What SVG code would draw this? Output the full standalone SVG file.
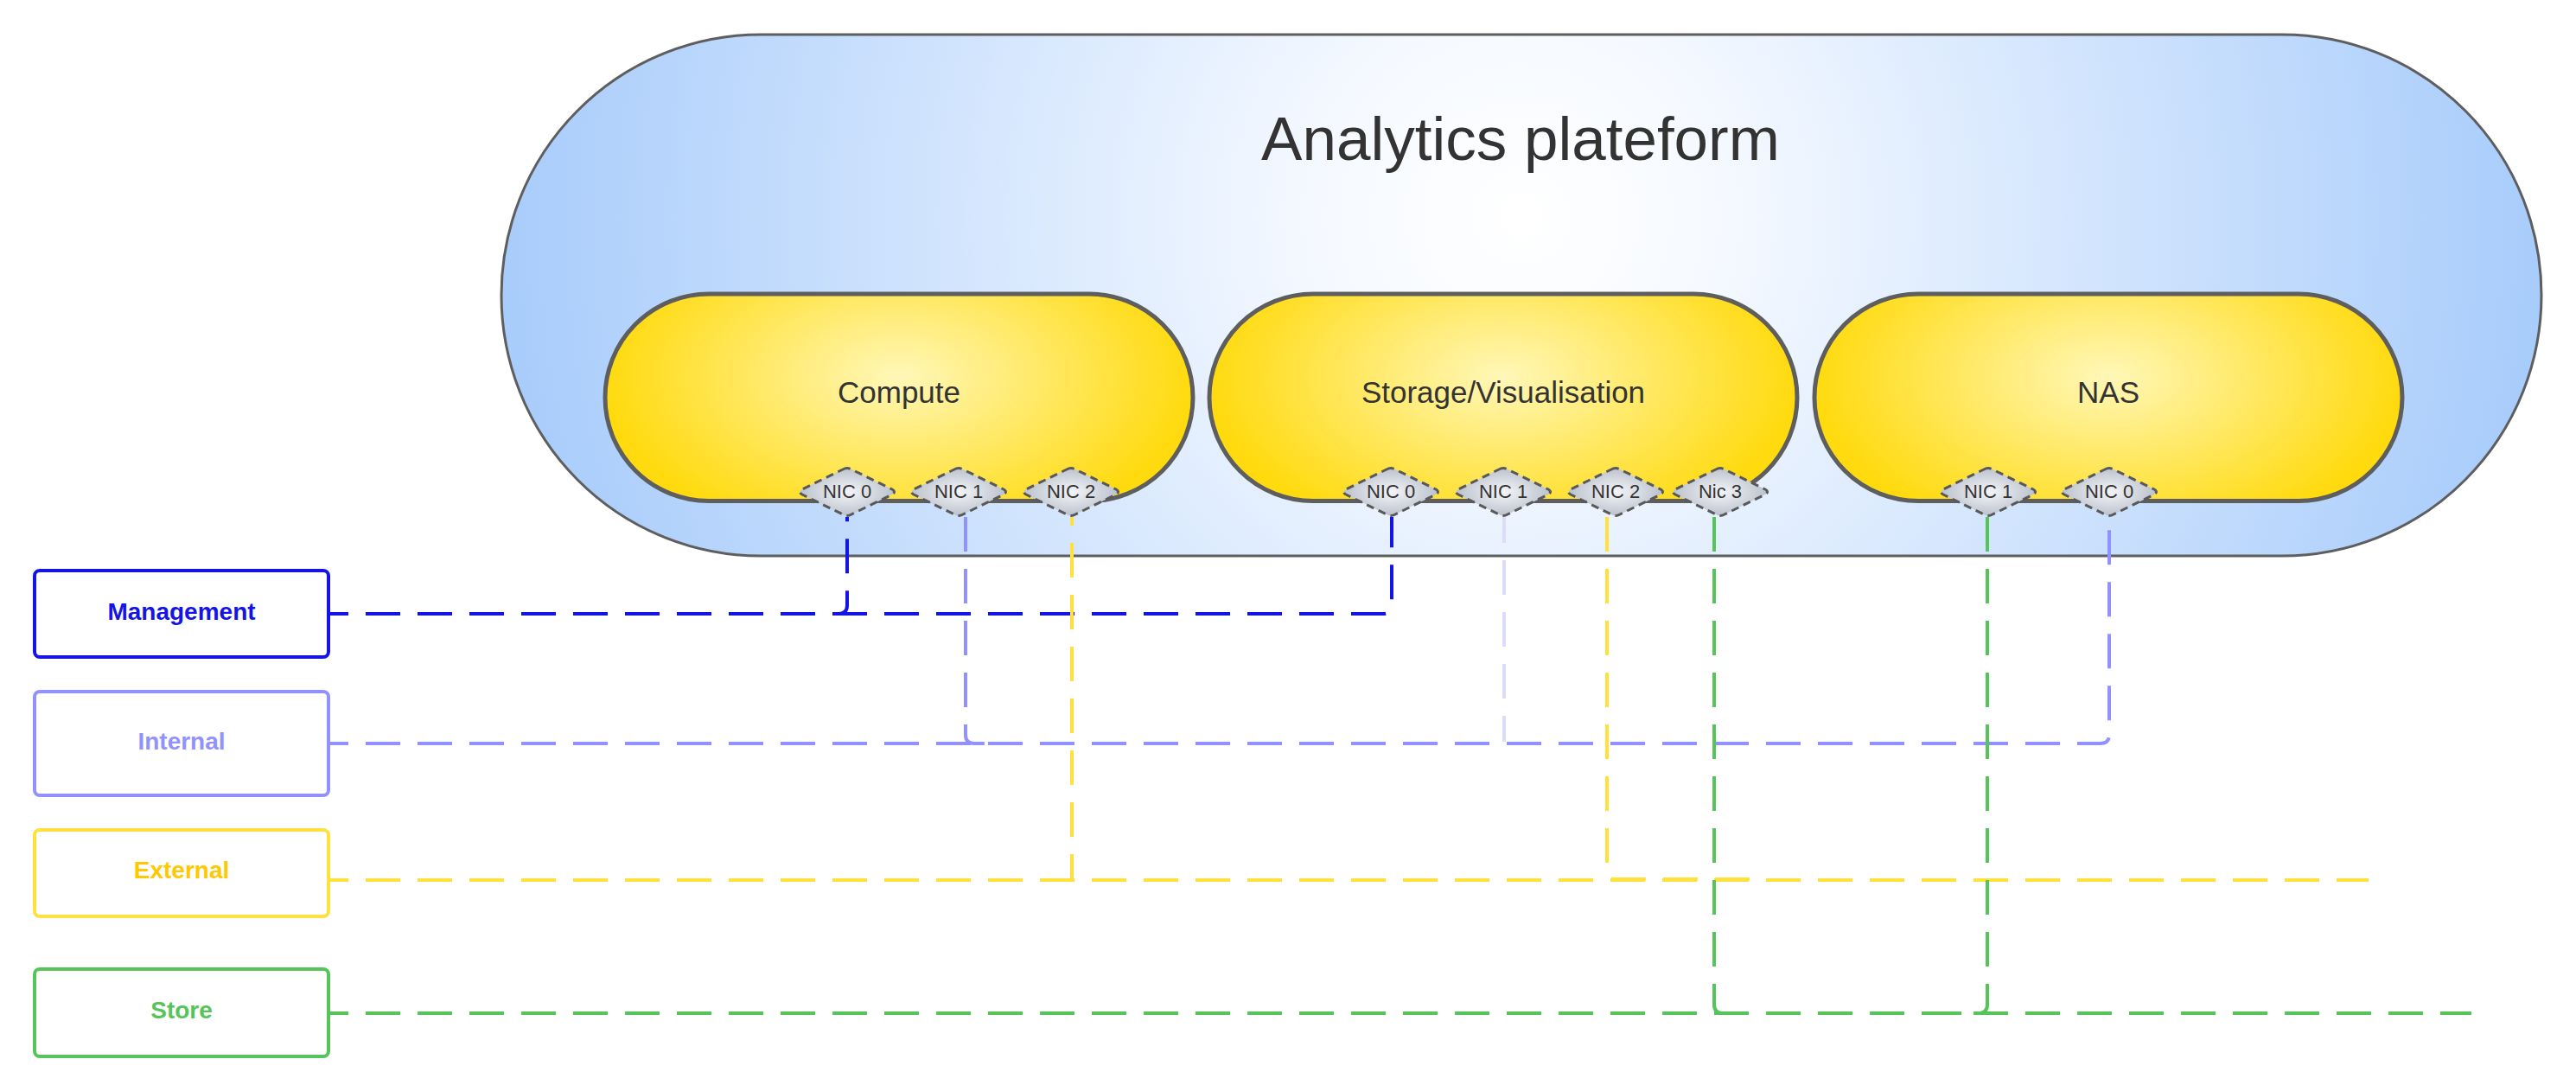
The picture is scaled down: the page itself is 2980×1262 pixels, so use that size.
<svg xmlns="http://www.w3.org/2000/svg" width="2980" height="1262" viewBox="0 0 2980 1262">
<defs>
  <radialGradient id="gBlue" gradientUnits="userSpaceOnUse" cx="1760" cy="250" r="1180">
    <stop offset="0" stop-color="#ffffff"/>
    <stop offset="0.2" stop-color="#f5f9ff"/>
    <stop offset="1" stop-color="#a8ccfb"/>
  </radialGradient>
  <radialGradient id="gYellow" cx="0.5" cy="0.4" r="0.5" gradientTransform="translate(0.5 0.4) scale(1 1.6) translate(-0.5 -0.4)">
    <stop offset="0" stop-color="#fff7b8"/>
    <stop offset="1" stop-color="#ffda0f"/>
  </radialGradient>
  <radialGradient id="gNic" cx="0.5" cy="0.5" r="0.55">
    <stop offset="0" stop-color="#f4f5f8"/>
    <stop offset="1" stop-color="#b6bdc9"/>
  </radialGradient>
</defs>
<style>
  .outer { fill: url(#gBlue); stroke: #5e5e5e; stroke-width: 3; }
  .inner { fill: url(#gYellow); stroke: #5e5e5e; stroke-width: 5; }
  .nic { fill: url(#gNic); stroke: #595959; stroke-width: 3; stroke-dasharray: 9 6; stroke-linejoin: round; }
  .title { font-family: "Liberation Sans", Arial, sans-serif; font-size: 71px; fill: #333333; text-anchor: middle; }
  .label { font-family: "Liberation Sans", Arial, sans-serif; font-size: 35px; fill: #333333; text-anchor: middle; }
  .nict { font-family: "Liberation Sans", Arial, sans-serif; font-size: 22px; fill: #333333; text-anchor: middle; }
  .leg { fill: #ffffff; stroke-width: 4; }
  .legt { font-family: "Liberation Sans", Arial, sans-serif; font-size: 28px; font-weight: bold; text-anchor: middle; }
  .c { fill: none; stroke-width: 4; stroke-dasharray: 40 20; }
  .mg { stroke: #1414e6; }
  .in { stroke: #9191ff; }
  .ex { stroke: #ffe13d; }
  .st { stroke: #55c55a; }
</style>
<rect x="0" y="0" width="2980" height="1262" fill="#ffffff"/>

<g id="analytics-platform">
  <rect class="outer" x="580" y="40" width="2360" height="603" rx="300" ry="301.5"/>
  <text class="title" x="1759" y="185">Analytics plateform</text>
</g>

<g id="compute">
  <rect class="inner" x="700" y="340" width="680" height="239.5" rx="120" ry="119.75"/>
  <text class="label" x="1040" y="466">Compute</text>
</g>
<g id="storage">
  <rect class="inner" x="1399" y="340" width="680" height="239.5" rx="120" ry="119.75"/>
  <text class="label" x="1739" y="466">Storage/Visualisation</text>
</g>
<g id="nas">
  <rect class="inner" x="2099" y="340" width="680" height="239.5" rx="120" ry="119.75"/>
  <text class="label" x="2439" y="466">NAS</text>
</g>

<g id="legend-management">
  <rect class="leg" x="40" y="660" width="340" height="100" rx="6" stroke="#1414e6"/>
  <text class="legt" x="210" y="717" fill="#1414e6">Management</text>
</g>
<g id="legend-internal">
  <rect class="leg" x="40" y="800" width="340" height="120" rx="6" stroke="#9191ff"/>
  <text class="legt" x="210" y="867" fill="#9191ff">Internal</text>
</g>
<g id="legend-external">
  <rect class="leg" x="40" y="960" width="340" height="100" rx="6" stroke="#ffe13d"/>
  <text class="legt" x="210" y="1016" fill="#ffc800">External</text>
</g>
<g id="legend-store">
  <rect class="leg" x="40" y="1121" width="340" height="101" rx="6" stroke="#55c55a"/>
  <text class="legt" x="210" y="1178" fill="#55c55a">Store</text>
</g>

<g id="connectors">
  <path class="c mg" stroke-dashoffset="17" d="M380,710 H970 Q980,710 980,700 V598"/>
  <path class="c mg" stroke-dashoffset="17" d="M380,710 H1600 Q1610,710 1610,700 V598"/>
  <path class="c in" stroke-dashoffset="17" d="M380,860 H2430 Q2440,860 2440,850 V598"/>
  <path class="c in" d="M1117,598 V850 Q1117,860 1127,860 H1155"/>
  <path class="c" stroke="#dcdcfa" stroke-dashoffset="10" d="M1740,598 V858"/>
  <path class="c ex" stroke-dashoffset="17" d="M380,1018 H2740"/>
  <path class="c ex" stroke-dashoffset="30" d="M1240,598 V1018"/>
  <path class="c ex" d="M1859,598 V1007 Q1859,1017 1869,1017 H2029"/>
  <path class="c st" stroke-dashoffset="17" d="M380,1172 H2859"/>
  <path class="c st" d="M1983,598 V1162 Q1983,1172 1993,1172 H2015"/>
  <path class="c st" d="M2299,598 V1162 Q2299,1172 2289,1172 H2262"/>
</g>

<g id="compute-nic0">
  <path class="nic" transform="translate(980 569)" d="M-5,-26 Q0,-29 5,-26 L52,-3 Q57,0 52,3 L5,26 Q0,29 -5,26 L-52,3 Q-57,0 -52,-3 Z"/>
  <text class="nict" x="980" y="576">NIC 0</text>
</g>
<g id="compute-nic1">
  <path class="nic" transform="translate(1109 569)" d="M-5,-26 Q0,-29 5,-26 L52,-3 Q57,0 52,3 L5,26 Q0,29 -5,26 L-52,3 Q-57,0 -52,-3 Z"/>
  <text class="nict" x="1109" y="576">NIC 1</text>
</g>
<g id="compute-nic2">
  <path class="nic" transform="translate(1239 569)" d="M-5,-26 Q0,-29 5,-26 L52,-3 Q57,0 52,3 L5,26 Q0,29 -5,26 L-52,3 Q-57,0 -52,-3 Z"/>
  <text class="nict" x="1239" y="576">NIC 2</text>
</g>
<g id="storage-nic0">
  <path class="nic" transform="translate(1609 569)" d="M-5,-26 Q0,-29 5,-26 L52,-3 Q57,0 52,3 L5,26 Q0,29 -5,26 L-52,3 Q-57,0 -52,-3 Z"/>
  <text class="nict" x="1609" y="576">NIC 0</text>
</g>
<g id="storage-nic1">
  <path class="nic" transform="translate(1739 569)" d="M-5,-26 Q0,-29 5,-26 L52,-3 Q57,0 52,3 L5,26 Q0,29 -5,26 L-52,3 Q-57,0 -52,-3 Z"/>
  <text class="nict" x="1739" y="576">NIC 1</text>
</g>
<g id="storage-nic2">
  <path class="nic" transform="translate(1869 569)" d="M-5,-26 Q0,-29 5,-26 L52,-3 Q57,0 52,3 L5,26 Q0,29 -5,26 L-52,3 Q-57,0 -52,-3 Z"/>
  <text class="nict" x="1869" y="576">NIC 2</text>
</g>
<g id="storage-nic3">
  <path class="nic" transform="translate(1990 569)" d="M-5,-26 Q0,-29 5,-26 L52,-3 Q57,0 52,3 L5,26 Q0,29 -5,26 L-52,3 Q-57,0 -52,-3 Z"/>
  <text class="nict" x="1990" y="576">Nic 3</text>
</g>
<g id="nas-nic1">
  <path class="nic" transform="translate(2300 569)" d="M-5,-26 Q0,-29 5,-26 L52,-3 Q57,0 52,3 L5,26 Q0,29 -5,26 L-52,3 Q-57,0 -52,-3 Z"/>
  <text class="nict" x="2300" y="576">NIC 1</text>
</g>
<g id="nas-nic0">
  <path class="nic" transform="translate(2440 569)" d="M-5,-26 Q0,-29 5,-26 L52,-3 Q57,0 52,3 L5,26 Q0,29 -5,26 L-52,3 Q-57,0 -52,-3 Z"/>
  <text class="nict" x="2440" y="576">NIC 0</text>
</g>
</svg>
